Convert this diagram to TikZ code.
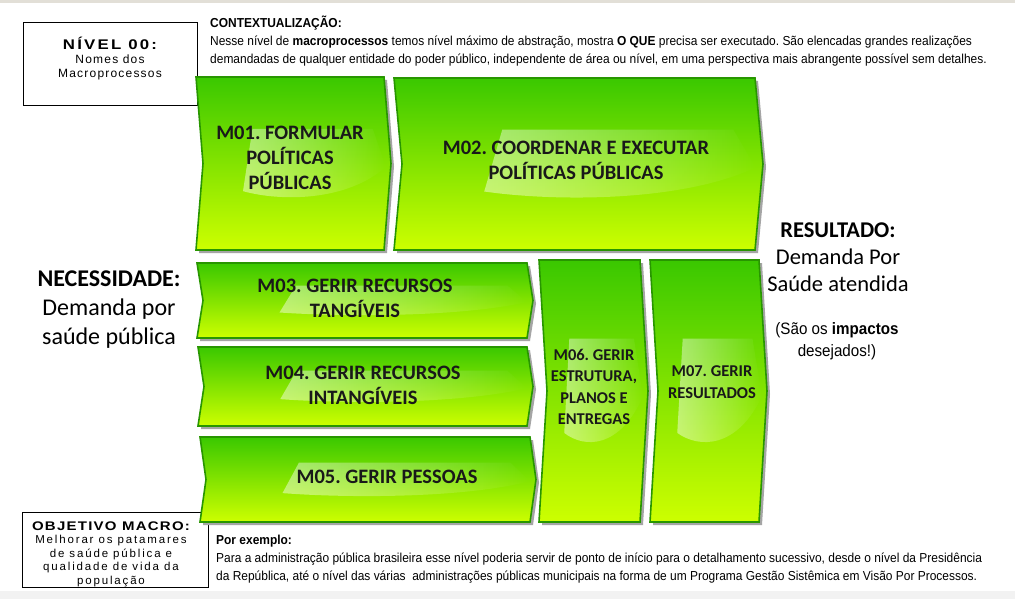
\documentclass[tikz,border=0pt]{standalone}
\usepackage{fontspec}
\setmainfont{Liberation Sans}
\newfontfamily\calib{Carlito}
\newfontfamily\narrowsf[FakeStretch=0.92]{Liberation Sans}
\newfontfamily\widesf[LetterSpace=10]{Liberation Sans}
\newfontfamily\widebf[FakeStretch=1.2, LetterSpace=16]{Liberation Sans}
\frenchspacing
\usetikzlibrary{fadings}

\definecolor{procgreen}{RGB}{58,200,0}
\definecolor{proclime}{RGB}{205,255,0}
\definecolor{procedge}{RGB}{40,150,0}
\definecolor{procshadow}{RGB}{165,165,165}
\definecolor{framegray}{RGB}{226,223,215}

% one macro process: left, top, right, bottom, depth of the notch / point
\newcommand{\macroproc}[5]{%
  \pgfmathsetmacro\pw{#3-#1}\pgfmathsetmacro\ph{#4-#2}\pgfmathsetmacro\pm{(#2+#4)/2}%
  \fill[procshadow] (#1+3,#2+3) -- (#3+3,#2+3) -- ({#3+#5+3},\pm+3) -- (#3+3,#4+3)
    -- (#1+3,#4+3) -- ({#1+#5+3},\pm+3) -- cycle;
  \draw[procedge, line width=1.6pt, top color=procgreen, bottom color=proclime]
    (#1,#2) -- (#3,#2) -- ({#3+#5},\pm) -- (#3,#4) -- (#1,#4) -- ({#1+#5},\pm) -- cycle;
  \fill[white, opacity=0.45, path fading=east]
    ({#1+0.3*\pw},{\pm-0.2*\ph}) -- ({#3-0.06*\pw},{\pm-0.2*\ph})
    -- ({#3-0.01*\pw+#5/2},{\pm+0.02*\ph})
    .. controls ({#3-0.2*\pw},{\pm+0.22*\ph}) and ({#1+0.45*\pw},{\pm+0.22*\ph})
    .. ({#1+0.25*\pw},{\pm+0.16*\ph}) -- cycle;
}

\tikzset{
  proctext/.style={font=\calib\bfseries\fontsize{20.5}{25}\selectfont, align=center, text=black!90, inner sep=0},
  smallproc/.style={proctext, font=\calib\bfseries\fontsize{16.5}{21.5}\selectfont},
  sidetext/.style={font=\calib\fontsize{24}{29}\selectfont, align=center, inner sep=0},
  bodytext/.style={font=\narrowsf\fontsize{13}{18}\selectfont, align=left, inner sep=0},
  boxtext/.style={font=\widesf\fontsize{12}{14}\selectfont, align=center, inner sep=0},
}

\begin{document}
\begin{tikzpicture}[x=1pt, y=-1pt]
  \useasboundingbox (0,0) rectangle (1015,599);
  \fill[white] (0,0) rectangle (1015,599);
  \fill[framegray] (0,0) rectangle (1015,3);
  \fill[black!5] (0,591) rectangle (1015,599);

  % level box and goal box
  \draw[line width=0.8pt] (23,22) rectangle (197,105);
  \node[boxtext] (nivel) at (110,59) {{\widebf\bfseries\fontsize{14}{14}\selectfont NÍVEL 00:}\\Nomes dos\\Macroprocessos};
  \draw[line width=0.8pt] (22,512) rectangle (208,587);
  \node[boxtext, font=\addfontfeature{LetterSpace=16}\fontsize{11.5}{13.5}\selectfont] (objetivo) at (111,554)
    {{\widebf\bfseries\addfontfeature{LetterSpace=10}\fontsize{12.5}{13.5}\selectfont OBJETIVO MACRO:}\\Melhorar os patamares\\de saúde pública e\\qualidade de vida da\\população};

  % macro processes
  \macroproc{196}{77}{384}{250}{7}
  \macroproc{394}{78}{755}{250}{8}
  \macroproc{197}{263}{527}{338}{6}
  \macroproc{198}{347}{527}{426}{6}
  \macroproc{200}{437}{530}{522}{6}
  \macroproc{539}{260}{640}{522}{8}
  \macroproc{650}{260}{759}{522}{8}

  \node[proctext] (m01) at (290,158) {M01. FORMULAR\\POLÍTICAS\\PÚBLICAS};
  \node[proctext] (m02) at (576,160) {M02. COORDENAR E EXECUTAR\\POLÍTICAS PÚBLICAS};
  \node[proctext] (m03) at (355,298) {M03. GERIR RECURSOS\\TANGÍVEIS};
  \node[proctext] (m04) at (363,385) {M04. GERIR RECURSOS\\INTANGÍVEIS};
  \node[proctext] (m05) at (387,477) {M05. GERIR PESSOAS};
  \node[smallproc] (m06) at (594,387) {M06. GERIR\\ESTRUTURA,\\PLANOS E\\ENTREGAS};
  \node[smallproc] (m07) at (712,382) {M07. GERIR\\RESULTADOS};

  % need and result
  \node[sidetext] (necessidade) at (109,310) {\textbf{NECESSIDADE:}\\Demanda por\\saúde pública};
  \node[sidetext, font=\calib\fontsize{22.5}{27}\selectfont] (resultado) at (838,257)
    {\textbf{RESULTADO:}\\Demanda Por\\Saúde atendida};
  \node[sidetext, font=\narrowsf\fontsize{16.5}{22}\selectfont] (impactos) at (837,341)
    {(São os \textbf{impactos}\\desejados!)};

  % context and example
  \node[bodytext, anchor=north west] (contexto) at (210,16)
    {\textbf{CONTEXTUALIZAÇÃO:}\\
     Nesse nível de \textbf{macroprocessos} temos nível máximo de abstração, mostra \textbf{O QUE} precisa ser executado. São elencadas grandes realizações\\
     demandadas de qualquer entidade do poder público, independente de área ou nível, em uma perspectiva mais abrangente possível sem detalhes.};
  \node[bodytext, anchor=north west] (exemplo) at (216,535)
    {\textbf{Por exemplo:}\\
     Para a administração pública brasileira esse nível poderia servir de ponto de início para o detalhamento sucessivo, desde o nível da Presidência\\
     da República, até o nível das várias\ \ administrações públicas municipais na forma de um Programa Gestão Sistêmica em Visão Por Processos.};
\end{tikzpicture}
\end{document}
